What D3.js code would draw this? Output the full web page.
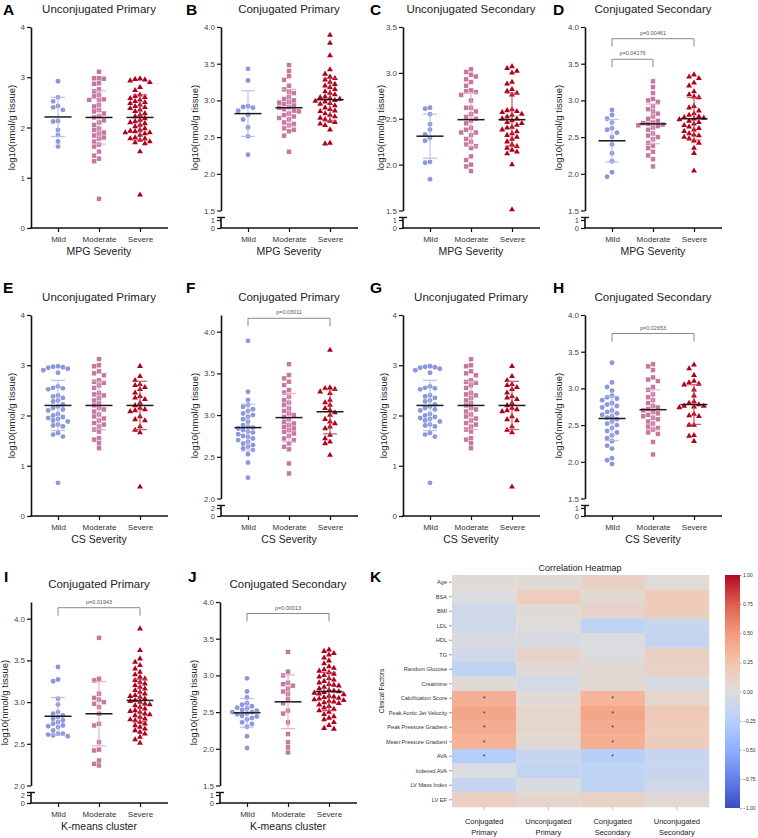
<!DOCTYPE html>
<html>
<head>
<meta charset="utf-8">
<script src="https://cdn.jsdelivr.net/npm/d3@7"></script>
<style>
  body { margin: 0; background: #fff; }
  svg text { font-family: "Liberation Sans", Arial, sans-serif; }
</style>
</head>
<body>
<svg id="fig" width="758" height="838"></svg>
<script>
var cats = ["Mild", "Moderate", "Severe"];

// A - Unconjugated Primary, MPG severity
var aMild = [2.92, 2.60, 2.52, 2.43, 2.40, 2.35, 2.13, 2.12, 1.95, 1.85, 1.72, 1.62];
var aModerate = [3.11, 2.98, 2.98, 2.97, 2.88, 2.87, 2.76, 2.72, 2.65, 2.62, 2.56, 2.55, 2.55, 2.45, 2.42, 2.35, 2.32, 2.28, 2.22, 2.20, 2.14, 2.10, 2.05, 1.98, 1.95, 1.90, 1.88, 1.84, 1.80, 1.78, 1.72, 1.66, 1.62, 1.52, 1.44, 1.38, 1.33, 0.58];
var aSevere = [2.97, 2.96, 2.95, 2.93, 2.90, 2.80, 2.74, 2.65, 2.62, 2.60, 2.58, 2.55, 2.52, 2.50, 2.48, 2.45, 2.42, 2.40, 2.38, 2.35, 2.32, 2.28, 2.25, 2.22, 2.18, 2.15, 2.12, 2.10, 2.08, 2.05, 2.02, 1.98, 1.95, 1.93, 1.92, 1.90, 1.90, 1.88, 1.85, 1.80, 1.78, 1.78, 1.75, 1.72, 1.70, 1.68, 1.52, 0.66];
var aMean = [2.21, 2.20, 2.20], aSd = [0.39, 0.53, 0.45];

// B - Conjugated Primary, MPG severity
var bMild = [3.43, 3.27, 2.92, 2.91, 2.90, 2.86, 2.80, 2.74, 2.63, 2.51, 2.26];
var bModerate = [3.48, 3.40, 3.33, 3.28, 3.20, 3.15, 3.12, 3.10, 3.05, 3.02, 3.00, 2.98, 2.97, 2.95, 2.93, 2.91, 2.90, 2.88, 2.86, 2.85, 2.82, 2.80, 2.78, 2.76, 2.74, 2.70, 2.68, 2.66, 2.62, 2.60, 2.58, 2.52, 2.30];
var bSevere = [3.89, 3.78, 3.61, 3.42, 3.36, 3.32, 3.30, 3.28, 3.25, 3.22, 3.20, 3.18, 3.15, 3.12, 3.10, 3.08, 3.05, 3.04, 3.03, 3.02, 3.00, 2.99, 2.98, 2.96, 2.95, 2.93, 2.90, 2.88, 2.86, 2.85, 2.82, 2.80, 2.78, 2.76, 2.74, 2.72, 2.70, 2.68, 2.66, 2.60, 2.42, 2.41];
var bMean = [2.82, 2.90, 3.01], bSd = [0.31, 0.25, 0.29];

// C - Unconjugated Secondary, MPG severity
var cMild = [2.62, 2.61, 2.55, 2.44, 2.38, 2.33, 2.29, 2.26, 2.03, 2.02, 1.84];
var cModerate = [3.04, 3.01, 2.98, 2.96, 2.93, 2.90, 2.86, 2.81, 2.80, 2.79, 2.76, 2.70, 2.62, 2.62, 2.58, 2.55, 2.52, 2.50, 2.48, 2.45, 2.40, 2.38, 2.35, 2.35, 2.32, 2.28, 2.25, 2.22, 2.20, 2.18, 2.09, 2.05, 2.00, 1.98, 1.93];
var cSevere = [3.07, 3.05, 3.02, 3.00, 2.90, 2.88, 2.82, 2.80, 2.78, 2.76, 2.60, 2.59, 2.58, 2.57, 2.55, 2.54, 2.52, 2.50, 2.50, 2.48, 2.46, 2.45, 2.43, 2.41, 2.40, 2.38, 2.36, 2.34, 2.32, 2.30, 2.28, 2.25, 2.22, 2.20, 2.18, 2.16, 2.14, 2.12, 2.00, 1.51];
var cMean = [2.31, 2.49, 2.49], cSd = [0.24, 0.29, 0.29];

// D - Conjugated Secondary, MPG severity
var dMild = [2.87, 2.80, 2.75, 2.70, 2.62, 2.60, 2.56, 2.50, 2.40, 2.28, 2.17, 2.02, 1.96];
var dModerate = [3.26, 3.18, 3.10, 3.02, 3.00, 2.98, 2.92, 2.88, 2.85, 2.82, 2.78, 2.75, 2.72, 2.70, 2.69, 2.68, 2.67, 2.66, 2.65, 2.63, 2.60, 2.55, 2.52, 2.50, 2.47, 2.42, 2.38, 2.35, 2.30, 2.25, 2.20, 2.10];
var dSevere = [3.35, 3.32, 3.30, 3.24, 3.20, 3.12, 3.08, 3.05, 3.04, 2.92, 2.90, 2.86, 2.82, 2.80, 2.78, 2.77, 2.76, 2.75, 2.74, 2.72, 2.70, 2.68, 2.66, 2.64, 2.62, 2.60, 2.58, 2.55, 2.53, 2.52, 2.50, 2.48, 2.45, 2.42, 2.35, 2.28, 2.04];
var dMean = [2.45, 2.68, 2.75], dSd = [0.29, 0.27, 0.29];

// E and G - Unconjugated Primary, CS severity
var eMild = [2.98, 2.97, 2.96, 2.95, 2.93, 2.90, 2.85, 2.58, 2.55, 2.54, 2.52, 2.40, 2.38, 2.35, 2.30, 2.28, 2.22, 2.18, 2.15, 2.12, 2.10, 2.03, 2.00, 1.97, 1.95, 1.93, 1.90, 1.88, 1.82, 1.80, 1.78, 1.65, 1.62, 1.58, 0.66];
var eModerate = [3.12, 3.00, 2.98, 2.88, 2.84, 2.80, 2.70, 2.67, 2.65, 2.60, 2.55, 2.45, 2.42, 2.40, 2.35, 2.30, 2.25, 2.20, 2.15, 2.12, 2.08, 2.02, 1.98, 1.94, 1.90, 1.85, 1.82, 1.78, 1.72, 1.68, 1.55, 1.52, 1.45, 1.35];
var eSevere = [2.98, 2.78, 2.70, 2.62, 2.60, 2.56, 2.52, 2.45, 2.38, 2.35, 2.32, 2.25, 2.20, 2.15, 2.12, 2.10, 2.08, 1.98, 1.92, 1.90, 1.78, 1.71, 1.66, 0.58];
var eMean = [2.20, 2.20, 2.20], eSd = [0.50, 0.48, 0.48];

// F - Conjugated Primary, CS severity
var fMild = [3.89, 3.28, 3.18, 3.12, 3.10, 3.07, 3.05, 3.02, 3.00, 2.98, 2.95, 2.92, 2.88, 2.86, 2.85, 2.84, 2.82, 2.80, 2.79, 2.77, 2.75, 2.74, 2.72, 2.70, 2.68, 2.66, 2.64, 2.62, 2.60, 2.58, 2.53, 2.43, 2.25];
var fModerate = [3.61, 3.48, 3.44, 3.40, 3.36, 3.30, 3.27, 3.22, 3.18, 3.15, 3.12, 3.08, 3.05, 3.02, 3.00, 2.98, 2.95, 2.92, 2.90, 2.88, 2.86, 2.84, 2.82, 2.80, 2.78, 2.75, 2.72, 2.70, 2.66, 2.62, 2.59, 2.42, 2.30];
var fSevere = [3.78, 3.33, 3.32, 3.31, 3.28, 3.26, 3.18, 3.15, 3.12, 3.08, 3.06, 3.03, 3.00, 2.95, 2.92, 2.90, 2.86, 2.84, 2.76, 2.72, 2.68, 2.66, 2.52];
var fMean = [2.85, 2.97, 3.04], fSd = [0.28, 0.29, 0.265];

// H - Conjugated Secondary, CS severity
var hMild = [3.35, 3.08, 3.02, 2.97, 2.90, 2.88, 2.86, 2.84, 2.80, 2.78, 2.76, 2.74, 2.70, 2.68, 2.66, 2.64, 2.62, 2.60, 2.58, 2.55, 2.52, 2.50, 2.46, 2.42, 2.40, 2.36, 2.32, 2.28, 2.22, 2.18, 2.05, 2.02, 1.97];
var hModerate = [3.33, 3.30, 3.25, 3.15, 3.12, 3.10, 3.02, 2.98, 2.92, 2.88, 2.84, 2.80, 2.76, 2.74, 2.72, 2.70, 2.68, 2.66, 2.64, 2.62, 2.60, 2.58, 2.55, 2.52, 2.48, 2.46, 2.44, 2.40, 2.38, 2.27, 2.10];
var hSevere = [3.32, 3.27, 3.18, 3.10, 3.08, 3.06, 3.05, 2.98, 2.90, 2.82, 2.80, 2.78, 2.76, 2.76, 2.75, 2.74, 2.65, 2.63, 2.62, 2.50, 2.50, 2.36, 2.35, 2.28];
var hMean = [2.59, 2.71, 2.78], hSd = [0.30, 0.27, 0.27];

// I - Conjugated Primary, K-means cluster
var iMild = [3.42, 3.27, 3.25, 3.04, 2.97, 2.88, 2.86, 2.84, 2.82, 2.80, 2.78, 2.76, 2.74, 2.72, 2.71, 2.70, 2.66, 2.62, 2.62, 2.61, 2.60, 2.59];
var iModerate = [3.77, 3.28, 3.26, 3.10, 3.05, 3.03, 3.00, 2.98, 2.94, 2.86, 2.74, 2.72, 2.52, 2.43, 2.42, 2.30, 2.26, 2.24];
var iSevere = [3.88, 3.62, 3.52, 3.48, 3.44, 3.40, 3.36, 3.33, 3.30, 3.28, 3.26, 3.24, 3.22, 3.20, 3.18, 3.16, 3.14, 3.12, 3.10, 3.08, 3.07, 3.06, 3.04, 3.02, 3.01, 3.00, 2.98, 2.97, 2.96, 2.94, 2.92, 2.90, 2.89, 2.88, 2.86, 2.85, 2.84, 2.82, 2.80, 2.79, 2.78, 2.76, 2.74, 2.72, 2.70, 2.68, 2.66, 2.64, 2.62, 2.58, 2.55, 2.51];
var iMean = [2.83, 2.86, 3.02], iSd = [0.225, 0.385, 0.255];

// J - Conjugated Secondary, K-means cluster
var jMild = [2.96, 2.78, 2.70, 2.62, 2.60, 2.58, 2.56, 2.55, 2.53, 2.52, 2.50, 2.50, 2.48, 2.47, 2.45, 2.44, 2.42, 2.40, 2.36, 2.34, 2.30, 2.17, 2.01];
var jModerate = [3.32, 3.05, 3.00, 2.90, 2.88, 2.86, 2.82, 2.78, 2.75, 2.68, 2.62, 2.52, 2.48, 2.36, 2.20, 2.09, 2.02, 1.95];
var jSevere = [3.35, 3.33, 3.30, 3.28, 3.24, 3.20, 3.16, 3.12, 3.10, 3.08, 3.06, 3.04, 3.02, 3.00, 2.98, 2.96, 2.94, 2.92, 2.90, 2.88, 2.87, 2.86, 2.84, 2.82, 2.80, 2.79, 2.78, 2.77, 2.76, 2.75, 2.74, 2.72, 2.71, 2.70, 2.69, 2.68, 2.67, 2.66, 2.65, 2.64, 2.63, 2.62, 2.60, 2.58, 2.56, 2.54, 2.52, 2.50, 2.47, 2.44, 2.42, 2.40, 2.36, 2.32, 2.28, 2.27];
var jMean = [2.49, 2.64, 2.78], jSd = [0.195, 0.365, 0.26];

// K - correlation heatmap
var heatRows = ["Age", "BSA", "BMI", "LDL", "HDL", "TG", "Random Glucose", "Creatinine", "Calcification Score", "Peak Aortic Jet Velocity", "Peak Pressure Gradient", "Mean Pressure Gradient", "AVA", "Indexed AVA", "LV Mass Index", "LV EF"];
var heatCols = ["Conjugated Primary", "Unconjugated Primary", "Conjugated Secondary", "Unconjugated Secondary"];
var corrConjPrimary = [0.04, -0.02, -0.10, -0.10, -0.03, -0.09, -0.20, 0.03, 0.38, 0.43, 0.40, 0.36, -0.27, -0.02, -0.16, 0.14];
var corrUnconjPrimary = [0.03, 0.16, 0.04, 0.01, -0.04, 0.10, 0.04, -0.07, 0.03, 0.08, 0.08, 0.05, -0.15, -0.18, -0.03, 0.08];
var corrConjSecondary = [0.13, 0.05, 0.10, -0.20, -0.02, -0.01, 0.05, 0.06, 0.34, 0.43, 0.39, 0.37, -0.25, -0.20, -0.20, 0.12];
var corrUnconjSecondary = [0.02, 0.18, 0.17, -0.15, -0.17, 0.13, 0.12, -0.04, 0.08, 0.20, 0.17, 0.17, -0.15, -0.15, -0.10, 0.04];
var sigConjPrimary = [0, 0, 0, 0, 0, 0, 0, 0, 1, 1, 1, 1, 1, 0, 0, 0];
var sigConjSecondary = [0, 0, 0, 0, 0, 0, 0, 0, 1, 1, 1, 1, 1, 0, 0, 0];
var colorbarTicks = [1, 0.75, 0.5, 0.25, 0, -0.25, -0.5, -0.75, -1];

var svg = d3.select("#fig");
var groupColor = ["#8d97dc", "#c6789e", "#b0001b"];
var barColor = ["#b4bbec", "#e0adc6", "#cc4656"];
var shapes = [d3.symbolCircle, d3.symbolSquare, d3.symbolTriangle];
var shapeSize = [19, 20, 15];

var colX = [31, 221, 403, 585];
var rowBase = [228, 516, 803];
var letterY = [15, 293, 582];
var ticksHalf = [1.5, 2.0, 2.5, 3.0, 3.5, 4.0];

var panels = [
  {id: "A", row: 0, x0: colX[0], lx: 3, title: "Unconjugated Primary", xt: "MPG Severity", kind: "full", groups: [aMild, aModerate, aSevere], mean: aMean, sd: aSd},
  {id: "B", row: 0, x0: colX[1], lx: 186, title: "Conjugated Primary", xt: "MPG Severity", kind: "broken", dom: [1.5, 4.0], ticks: ticksHalf, low: 1, groups: [bMild, bModerate, bSevere], mean: bMean, sd: bSd},
  {id: "C", row: 0, x0: colX[2], lx: 370, title: "Unconjugated Secondary", xt: "MPG Severity", kind: "broken", dom: [1.5, 3.5], ticks: [1.5, 2.0, 2.5, 3.0, 3.5], low: 1, groups: [cMild, cModerate, cSevere], mean: cMean, sd: cSd, ytx: -22},
  {id: "D", row: 0, x0: colX[3], lx: 553, title: "Conjugated Secondary", xt: "MPG Severity", kind: "broken", dom: [1.5, 4.0], ticks: ticksHalf, low: 1, groups: [dMild, dModerate, dSevere], mean: dMean, sd: dSd,
    pvals: [{a: 0, b: 2, y: 38.7, t: "p=0.00461"}, {a: 0, b: 1, y: 59.3, t: "p=0.04176"}]},
  {id: "E", row: 1, x0: colX[0], lx: 3, title: "Unconjugated Primary", xt: "CS Severity", kind: "full", groups: [eMild, eModerate, eSevere], mean: eMean, sd: eSd},
  {id: "F", row: 1, x0: colX[1], lx: 186, title: "Conjugated Primary", xt: "CS Severity", kind: "broken", dom: [2.0, 4.2], ticks: [2.0, 2.5, 3.0, 3.5, 4.0], low: 2, groups: [fMild, fModerate, fSevere], mean: fMean, sd: fSd,
    pvals: [{a: 0, b: 2, y: 318.3, t: "p=0.03011"}]},
  {id: "G", row: 1, x0: colX[2], lx: 370, title: "Unconjugated Primary", xt: "CS Severity", kind: "full", groups: [eMild, eModerate, eSevere], mean: eMean, sd: eSd},
  {id: "H", row: 1, x0: colX[3], lx: 553, title: "Conjugated Secondary", xt: "CS Severity", kind: "broken", dom: [1.5, 4.0], ticks: ticksHalf, low: 1, groups: [hMild, hModerate, hSevere], mean: hMean, sd: hSd,
    pvals: [{a: 0, b: 2, y: 333.5, t: "p=0.02653"}]},
  {id: "I", row: 2, x0: colX[0], lx: 4, title: "Conjugated Primary", xt: "K-means cluster", kind: "broken", dom: [2.0, 4.2], ticks: [2.0, 2.5, 3.0, 3.5, 4.0], low: 2, groups: [iMild, iModerate, iSevere], mean: iMean, sd: iSd,
    pvals: [{a: 0, b: 2, y: 607.7, t: "p=0.01943"}]},
  {id: "J", row: 2, x0: 220, lx: 188, title: "Conjugated Secondary", xt: "K-means cluster", kind: "broken", dom: [1.5, 4.0], ticks: ticksHalf, low: 1, groups: [jMild, jModerate, jSevere], mean: jMean, sd: jSd,
    pvals: [{a: 0, b: 2, y: 613.5, t: "p=0.00013"}]}
];

function swarm(values, y, cx, step) {
  var placed = [];
  values.slice().sort(function(a, b) { return b - a; }).forEach(function(v) {
    var py = y(v);
    for (var k = 0; k < 60; k++) {
      var off = (k % 2 === 0 ? 1 : -1) * Math.ceil(k / 2) * step;
      var px = cx + off;
      var hit = placed.some(function(p) {
        var dx = p.x - px, dy = p.y - py;
        return dx * dx + dy * dy < step * step * 0.92;
      });
      if (!hit) { placed.push({x: px, y: py, v: v}); break; }
    }
  });
  return placed;
}

function drawPanel(p) {
  var base = rowBase[p.row];
  var top = base - 201;
  var g = svg.append("g");
  var y, yLow;
  if (p.kind === "full") {
    y = d3.scaleLinear().domain([0, 4]).range([base, top]);
  } else {
    y = d3.scaleLinear().domain(p.dom).range([base - 17.5, top]);
    yLow = d3.scaleLinear().domain([0, p.low]).range([base, base - 8]);
  }
  var x = d3.scalePoint().domain(cats).range([p.x0 + 27, p.x0 + 109]);

  // y axis
  var ya = g.append("g").attr("transform", "translate(" + p.x0 + ",0)")
    .call(p.kind === "full"
      ? d3.axisLeft(y).tickValues([0, 1, 2, 3, 4]).tickFormat(d3.format("d")).tickSize(4).tickSizeOuter(0).tickPadding(2)
      : d3.axisLeft(y).tickValues(p.ticks).tickFormat(d3.format(".1f")).tickSize(4).tickSizeOuter(0).tickPadding(2));
  if (yLow) {
    var yl = g.append("g").attr("transform", "translate(" + p.x0 + ",0)")
      .call(d3.axisLeft(yLow).tickValues([0, p.low]).tickFormat(d3.format("d")).tickSize(4).tickSizeOuter(0).tickPadding(2));
    yl.select(".domain").attr("d", "M0," + base + "V" + (base - 10.5));
    g.append("line").attr("x1", p.x0 - 4).attr("x2", p.x0 + 4)
      .attr("y1", base - 10.5).attr("y2", base - 10.5)
      .attr("stroke", "#111").attr("stroke-width", 1.4);
    yl.selectAll(".tick text").attr("font-size", 7.5);
  }
  g.selectAll(".domain").attr("stroke", "#111").attr("stroke-width", 1.6);
  g.selectAll(".tick line").attr("stroke", "#111").attr("stroke-width", 1.2);
  ya.selectAll(".tick text").attr("font-size", 8).attr("fill", "#444");
  g.selectAll(".tick text").attr("fill", "#444").attr("font-family", "Liberation Sans, Arial, sans-serif");

  // x axis
  g.append("line").attr("x1", p.x0 - 0.8).attr("x2", p.x0 + 137)
    .attr("y1", base).attr("y2", base).attr("stroke", "#111").attr("stroke-width", 1.6);
  var xa = g.append("g").attr("transform", "translate(0," + base + ")")
    .call(d3.axisBottom(x).tickSize(4).tickPadding(4));
  xa.select(".domain").remove();
  xa.selectAll(".tick line").attr("stroke", "#111").attr("stroke-width", 1.2);
  xa.selectAll(".tick text").attr("font-size", 8).attr("fill", "#333")
    .attr("font-family", "Liberation Sans, Arial, sans-serif");

  // titles
  g.append("text").attr("x", p.x0 + 68).attr("y", base - 215)
    .attr("text-anchor", "middle").attr("font-size", 11.5).attr("fill", "#222").text(p.title);
  g.append("text").attr("x", p.x0 + 68).attr("y", base + 27)
    .attr("text-anchor", "middle").attr("font-size", 10.5).attr("fill", "#222").text(p.xt);
  var ytx = p.ytx || (p.kind === "full" ? -19 : -26);
  g.append("text")
    .attr("transform", "translate(" + (p.x0 + ytx) + "," + ((base + top) / 2) + ") rotate(-90)")
    .attr("text-anchor", "middle").attr("dy", "0.35em")
    .attr("font-size", 9.5).attr("fill", "#222").text("log10(nmol/g tissue)");
  svg.append("text").attr("x", p.lx).attr("y", letterY[p.row])
    .attr("font-size", 15.5).attr("font-weight", "bold").attr("fill", "#000").text(p.id);

  // points
  p.groups.forEach(function(vals, gi) {
    var pts = swarm(vals, y, x(cats[gi]), 4.9);
    g.selectAll(null).data(pts).enter().append("path")
      .attr("d", d3.symbol().type(shapes[gi]).size(shapeSize[gi]))
      .attr("transform", function(d) { return "translate(" + d.x + "," + d.y + ")"; })
      .attr("fill", groupColor[gi]);
  });

  // mean and SD
  cats.forEach(function(c, gi) {
    var cx = x(c), m = p.mean[gi], s = p.sd[gi];
    var sg = g.append("g").attr("stroke", barColor[gi]).attr("stroke-width", 1.2).attr("opacity", 0.9);
    sg.append("line").attr("x1", cx).attr("x2", cx).attr("y1", y(m + s)).attr("y2", y(m - s));
    sg.append("line").attr("x1", cx - 7).attr("x2", cx + 7).attr("y1", y(m + s)).attr("y2", y(m + s));
    sg.append("line").attr("x1", cx - 7).attr("x2", cx + 7).attr("y1", y(m - s)).attr("y2", y(m - s));
    g.append("line").attr("x1", cx - 13.5).attr("x2", cx + 13.5).attr("y1", y(m)).attr("y2", y(m))
      .attr("stroke", "#1a1a1a").attr("stroke-width", 1.5);
  });

  // p value brackets
  (p.pvals || []).forEach(function(b) {
    var xa1 = x(cats[b.a]), xb1 = x(cats[b.b]);
    g.append("path").attr("d", "M" + xa1 + "," + (b.y + 8) + "V" + b.y + "H" + xb1 + "V" + (b.y + 8))
      .attr("fill", "none").attr("stroke", "#8a8a8a").attr("stroke-width", 1);
    g.append("text").attr("x", (xa1 + xb1) / 2).attr("y", b.y - 4)
      .attr("text-anchor", "middle").attr("font-size", 5.5).attr("fill", "#555").text(b.t);
  });
}

panels.forEach(drawPanel);

// ---- K: correlation heatmap ----
var coolwarm = d3.piecewise(d3.interpolateRgb, ["#3b4cc0", "#6282ea", "#8db0fe", "#b8d0f9", "#dddddd", "#f5c4ac", "#f49a7b", "#de604d", "#b40426"]);
var corrScale = function(v) { return coolwarm((v + 1) / 2); };
var corrCols = [corrConjPrimary, corrUnconjPrimary, corrConjSecondary, corrUnconjSecondary];
var sigCols = [sigConjPrimary, null, sigConjSecondary, null];

var hx = d3.scaleBand().domain(heatCols).range([452, 709]);
var hy = d3.scaleBand().domain(heatRows).range([575, 807]);
var hk = svg.append("g");

heatCols.forEach(function(col, ci) {
  hk.selectAll(null).data(heatRows).enter().append("rect")
    .attr("x", hx(col)).attr("y", function(r) { return hy(r); })
    .attr("width", hx.bandwidth() + 0.3).attr("height", hy.bandwidth() + 0.3)
    .attr("fill", function(r, ri) { return corrScale(corrCols[ci][ri]); });
  if (sigCols[ci]) {
    hk.selectAll(null).data(heatRows.filter(function(r, ri) { return sigCols[ci][ri]; }))
      .enter().append("text")
      .attr("x", hx(col) + hx.bandwidth() / 2).attr("y", function(r) { return hy(r) + hy.bandwidth() / 2 + 3.2; })
      .attr("text-anchor", "middle").attr("font-size", 7).attr("fill", "#333").text("*");
  }
});

var hyAxis = hk.append("g").attr("transform", "translate(452,0)")
  .call(d3.axisLeft(hy).tickSize(3).tickPadding(2));
hyAxis.select(".domain").remove();
hyAxis.selectAll(".tick line").attr("stroke", "#555").attr("stroke-width", 0.6);
hyAxis.selectAll(".tick text").attr("font-size", 5.6).attr("fill", "#333");

var hxAxis = hk.append("g").attr("transform", "translate(0,807)")
  .call(d3.axisBottom(hx).tickSize(3).tickFormat(""));
hxAxis.select(".domain").remove();
hxAxis.selectAll(".tick line").attr("stroke", "#999").attr("stroke-width", 0.6);

heatCols.forEach(function(col) {
  var words = col.split(" ");
  var t = hk.append("text").attr("x", hx(col) + hx.bandwidth() / 2).attr("y", 824)
    .attr("text-anchor", "middle").attr("font-size", 7.5).attr("fill", "#222");
  t.append("tspan").attr("x", hx(col) + hx.bandwidth() / 2).text(words[0]);
  t.append("tspan").attr("x", hx(col) + hx.bandwidth() / 2).attr("dy", 11).text(words[1]);
});

hk.append("text").attr("x", 580).attr("y", 571).attr("text-anchor", "middle")
  .attr("font-size", 9).attr("fill", "#222").text("Correlation Heatmap");
hk.append("text").attr("transform", "translate(382,691) rotate(-90)")
  .attr("text-anchor", "middle").attr("dy", "0.35em")
  .attr("font-size", 6.5).attr("fill", "#222").text("Clinical Factors");
svg.append("text").attr("x", 370).attr("y", letterY[2])
  .attr("font-size", 15.5).attr("font-weight", "bold").attr("fill", "#000").text("K");

// colorbar
var cb = d3.scaleLinear().domain([-1, 1]).range([808, 575]);
var grad = svg.append("defs").append("linearGradient").attr("id", "cwgrad")
  .attr("x1", 0).attr("y1", 1).attr("x2", 0).attr("y2", 0);
d3.range(0, 1.0001, 0.05).forEach(function(t) {
  grad.append("stop").attr("offset", t).attr("stop-color", coolwarm(t));
});
hk.append("rect").attr("x", 725).attr("y", 575).attr("width", 15).attr("height", 233)
  .attr("fill", "url(#cwgrad)");
var cbAxis = hk.append("g").attr("transform", "translate(740,0)")
  .call(d3.axisRight(cb).tickValues(colorbarTicks).tickFormat(d3.format(".2f")).tickSize(1.5).tickPadding(1.5));
cbAxis.select(".domain").remove();
cbAxis.selectAll(".tick line").attr("stroke", "#555").attr("stroke-width", 0.6);
cbAxis.selectAll(".tick text").attr("font-size", 5).attr("fill", "#333");
</script>
</body>
</html>
